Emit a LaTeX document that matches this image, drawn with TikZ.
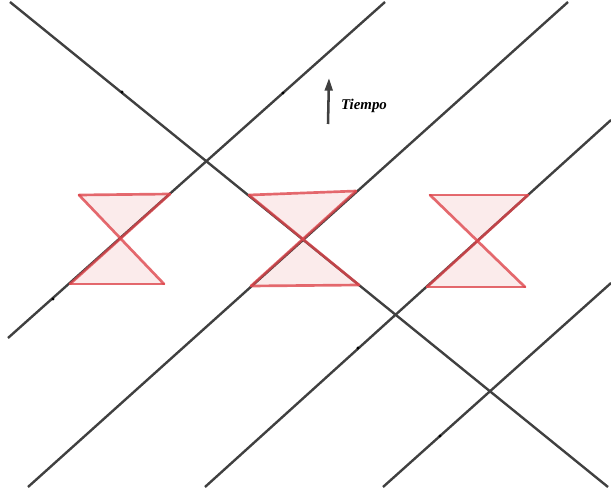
\documentclass[tikz,border=0pt]{standalone}
\usepackage{fontspec}
\setmainfont{Liberation Serif}
\usetikzlibrary{arrows.meta}
\definecolor{lineagray}{RGB}{64, 64, 64}
\definecolor{conored}{RGB}{222, 70, 76}
\definecolor{conofill}{RGB}{204, 0, 0}

\begin{document}
\begin{tikzpicture}[
  x=0.025cm, y=-0.025cm,
  linea/.style={draw=lineagray, line width=1.7pt},
  cono/.style={draw=conored, draw opacity=0.8, line width=1.9pt, line cap=round},
  conofondo/.style={fill=conofill, fill opacity=0.08},
  punto/.style={circle, fill=black, inner sep=0pt, minimum size=2.2pt},
  flecha/.style={-{Triangle[length=9pt, width=5.5pt]}, line width=1.8pt, lineagray}
]
  \useasboundingbox (0,0) rectangle (611,492);

  % lineas de universo
  \coordinate (d1) at (10,2);   \coordinate (d2) at (608,487);
  \coordinate (a1) at (8,338);  \coordinate (a2) at (385,2);
  \coordinate (b1) at (28,487); \coordinate (b2) at (568,2);
  \coordinate (c1) at (205,487); \coordinate (c2) at (611,120);
  \coordinate (e1) at (383,487); \coordinate (e2) at (611,283);
  \draw[linea] (d1) -- (d2);
  \draw[linea] (a1) -- (a2);
  \draw[linea] (b1) -- (b2);
  \draw[linea] (c1) -- (c2);
  \draw[linea] (e1) -- (e2);

  \node[punto] (p1) at (122,92) {};
  \node[punto] (p2) at (283,93) {};
  \node[punto] (p3) at (53,299) {};
  \node[punto] (p4) at (358,348) {};
  \node[punto] (p5) at (440,436) {};

  % conos de luz
  \coordinate (TL1) at (79,195);  \coordinate (TR1) at (170,194);
  \coordinate (BL1) at (70,284);  \coordinate (BR1) at (164,284);
  \coordinate (C1) at (120.5,238.5);
  \coordinate (TL2) at (249,195); \coordinate (TR2) at (356,191);
  \coordinate (BL2) at (251,286); \coordinate (BR2) at (359,285);
  \coordinate (C2) at (302.9,239.1);
  \coordinate (TL3) at (430,195); \coordinate (TR3) at (528,195);
  \coordinate (BL3) at (427,287); \coordinate (BR3) at (525,287);
  \coordinate (C3) at (477.5,241);
  \foreach \k in {1,2,3}{
    \fill[conofondo] (TL\k) -- (TR\k) -- (C\k) -- cycle;
    \fill[conofondo] (BL\k) -- (BR\k) -- (C\k) -- cycle;
    \draw[cono] (TL\k) -- (TR\k);
    \draw[cono] (BL\k) -- (BR\k);
    \draw[cono] (TL\k) -- (BR\k);
    \draw[cono] (BL\k) -- (TR\k);
  }

  \coordinate (t0) at (328,124);
  \coordinate (t1) at (329,78);
  \draw[flecha] (t0) -- (t1);
  \node[font=\bfseries\itshape\fontsize{10.6}{12}\selectfont] (tiempo) at (364,106) {Tiempo};
\end{tikzpicture}
\end{document}
